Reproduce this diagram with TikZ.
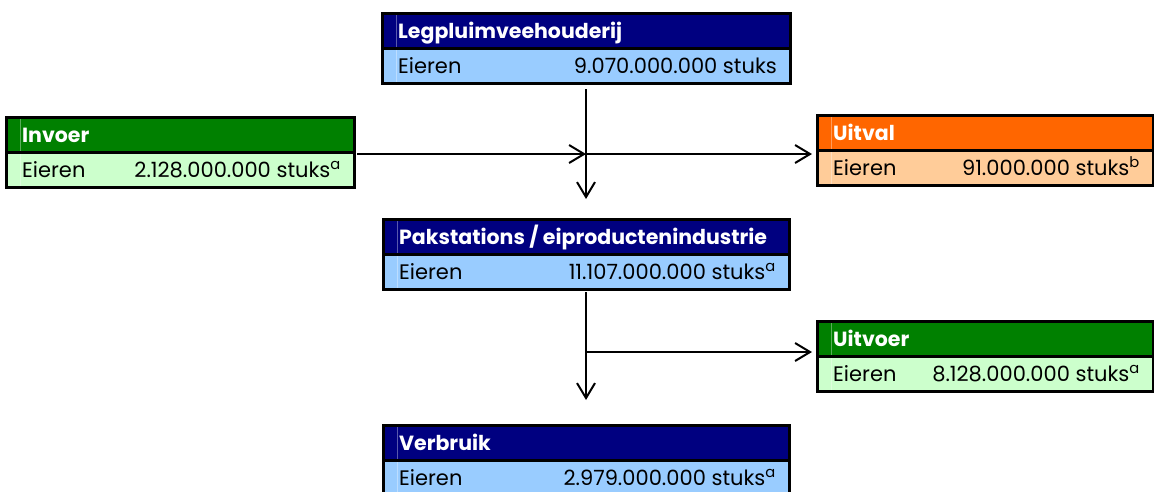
\documentclass[tikz,border=0pt]{standalone}
\usepackage{fontspec}
\setmainfont{Poppins}
\usetikzlibrary{arrows.meta}
\definecolor{navyhd}{HTML}{000080}
\definecolor{bluedt}{HTML}{99CCFF}
\definecolor{greenhd}{HTML}{008000}
\definecolor{greendt}{HTML}{CCFFCC}
\definecolor{orangehd}{HTML}{FF6600}
\definecolor{orangedt}{HTML}{FFCC99}
\newcommand\eggbox[8]{%
 \node[cell, fill=#5, minimum width=#4, minimum height=35] (#1H) at (#2,#3) {};
 \node[cell, fill=#6, minimum width=#4, minimum height=35] (#1D) at (#1H.south west) {};
 \draw[gridln] ([xshift=14pt]#1H.north west) -- ([xshift=14pt]#1D.south west);
 \node[hdrtext] (#1T) at ([shift={(16pt,10pt)}]#1H.south west) {#7};
 \node[dattext] (#1L) at ([shift={(16pt,10pt)}]#1D.south west) {Eieren};
 \node[amttext] (#1A) at ([shift={(-13pt,10pt)}]#1D.south east) {#8};
 \draw[frame] (#1H.north west) rectangle (#1D.south east);
 \draw[frame] (#1H.south west) -- (#1H.south east);
}
\begin{document}
\begin{tikzpicture}[x=1pt,y=-1pt,
 cell/.style={rectangle, draw=none, inner sep=0pt, outer sep=0pt, anchor=north west},
 hdrtext/.style={anchor=base west, inner sep=0pt, text=white, font=\bfseries\fontsize{20.5}{24}\selectfont},
 dattext/.style={anchor=base west, inner sep=0pt, font=\fontsize{21}{24}\selectfont},
 amttext/.style={anchor=base east, inner sep=0pt, font=\fontsize{21}{24}\selectfont},
 frame/.style={line width=3pt},
 gridln/.style={white, opacity=0.35, line width=0.8pt},
 flow/.style={line width=2pt, -{Straight Barb[length=15pt,width=18pt]}}]
\useasboundingbox (0,0) rectangle (1154,491);
\clip (0,0) rectangle (1154,491);
\eggbox{leg}{382}{13}{408}{navyhd}{bluedt}{Legpluimveehouderij}{9.070.000.000 stuks}
\eggbox{inv}{6}{117}{348}{greenhd}{greendt}{Invoer}{2.128.000.000 stuks\textsuperscript{a}}
\eggbox{uit}{817}{115}{336}{orangehd}{orangedt}{Uitval}{91.000.000 stuks\textsuperscript{b}}
\eggbox{pak}{383}{219}{406}{navyhd}{bluedt}{Pakstations / eiproductenindustrie}{11.107.000.000 stuks\textsuperscript{a}}
\eggbox{uitv}{817}{321}{336}{greenhd}{greendt}{Uitvoer}{8.128.000.000 stuks\textsuperscript{a}}
\eggbox{ver}{383}{425}{406}{navyhd}{bluedt}{Verbruik}{2.979.000.000 stuks\textsuperscript{a}}
\coordinate (j1) at (586,154);
\coordinate (j2) at (586,352);
\draw[flow, shorten <=6pt, shorten >=20pt] (legD.south) -- (pakH.north);
\draw[flow, shorten <=3pt] (invH.south east |- j1) -- (j1);
\draw[flow, shorten >=5pt] (j1) -- (j1 -| uitH.west);
\draw[flow, shorten <=3pt, shorten >=25pt] (pakD.south) -- (verH.north);
\draw[flow, shorten >=5pt] (j2) -- (j2 -| uitvH.west);
\end{tikzpicture}
\end{document}
